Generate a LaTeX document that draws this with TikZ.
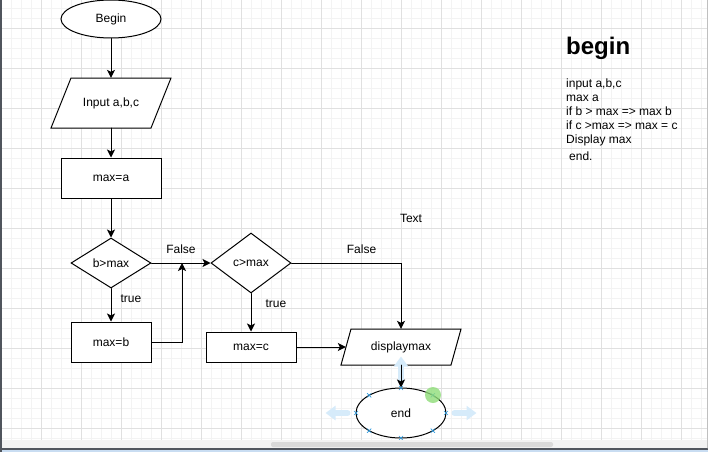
\documentclass[tikz,border=0pt]{standalone}
\usepackage{fontspec}
\setmainfont{Liberation Sans}
\usetikzlibrary{arrows.meta,shapes.geometric}

\definecolor{gridminor}{HTML}{F3F3F3}
\definecolor{gridmajor}{HTML}{E0E0E0}
\definecolor{selblue}{HTML}{D6EBFA}
\definecolor{markblue}{HTML}{2C9AE0}
\definecolor{handlegreen}{HTML}{8FDD79}
\definecolor{barback}{HTML}{F2F2F2}
\definecolor{barthumb}{HTML}{D9D9D9}
\definecolor{edgedark}{HTML}{50555D}
\definecolor{edgeblue}{HTML}{C9DDF2}

\begin{document}
\begin{tikzpicture}[x=1pt,y=-1pt,line cap=round,
  every node/.style={font=\fontsize{12}{14}\selectfont},
  flow/.style={draw,line width=1pt,-{Stealth[length=8pt,width=8pt,inset=2pt]}},
  outline/.style={draw,line width=1pt,fill=white},
  box/.style={outline,minimum height=40pt,inner sep=0pt},
  cond/.style={outline,diamond,inner sep=0pt},
  io/.style={inner sep=0pt},
  term/.style={outline,ellipse,inner sep=0pt}]
  \useasboundingbox (0,0) rectangle (708,452);

  % grid
  \foreach \x in {1,11,...,701} \draw[gridminor,line width=.8pt] (\x,0) -- (\x,440);
  \foreach \y in {8,18,...,438} \draw[gridminor,line width=.8pt] (0,\y) -- (708,\y);
  \foreach \x in {1,41,...,681} \draw[gridmajor,line width=.8pt] (\x,0) -- (\x,440);
  \foreach \y in {28,68,...,428} \draw[gridmajor,line width=.8pt] (0,\y) -- (708,\y);

  % parallelograms (drawn before their nodes)
  \coordinate (inputc) at (111,103);
  \coordinate (dispc) at (401,347);
  \path[outline] (inputc) ++(-60,25) -- ++(100,0) -- ++(20,-50) -- ++(-100,0) -- cycle;
  \path[outline] (dispc) ++(-60,18) -- ++(110,0) -- ++(10,-36) -- ++(-110,0) -- cycle;

  % flowchart
  \node[term,minimum width=100pt,minimum height=38pt] (start) at (111,19) {Begin};
  \node[io,minimum width=110pt,minimum height=50pt] (input) at (inputc) {Input a,b,c};
  \node[box,minimum width=100pt] (maxa) at (111,178) {max=a};
  \node[cond,minimum width=80pt,minimum height=50pt] (bmax) at (111,263) {b>max};
  \node[box,minimum width=80pt] (maxb) at (111,342) {max=b};
  \node[cond,minimum width=80pt,minimum height=60pt] (cmax) at (251,263) {c>max};
  \node[box,minimum width=90pt,minimum height=30pt] (maxc) at (251,347) {max=c};
  \node[io,minimum width=110pt,minimum height=36pt] (disp) at (dispc) {displaymax};
  \node[term,minimum width=90pt,minimum height=50pt] (stop) at (401,413) {end};
  \coordinate (join) at (182,263);
  \node (note) at (411,218) {Text};

  % selection handles
  \draw[selblue,line width=6pt,-{Triangle[length=10pt,width=14pt]}] (stop.west) ++(-8,0) -- ++(-22,0);
  \draw[selblue,line width=6pt,-{Triangle[length=10pt,width=14pt]}] (stop.east) ++(8,0) -- ++(22,0);
  \draw[selblue,line width=6pt,-{Triangle[length=10pt,width=14pt]}] (stop.north) ++(0,-6) -- ++(0,-25);

  \draw[flow] (start) -- (input);
  \draw[flow] (input) -- (maxa);
  \draw[flow] (maxa) -- (bmax);
  \draw[flow] (bmax) -- node[pos=.32,right=9pt,inner sep=0pt] {true} (maxb);
  \draw[flow] (maxb.east) -| (join);
  \draw[flow] (bmax) -- node[above=9pt,inner sep=0pt] {False} (cmax);
  \draw[flow] (cmax) -- node[pos=.26,right=14pt,inner sep=0pt] {true} (maxc);
  \draw[flow] (maxc) -- (disp);
  \draw[flow] (cmax) -| node[pos=.32,above=9pt,inner sep=0pt] {False} (disp);
  \draw[flow] (disp) -- (stop);

  \foreach \a in {0,45,...,315}
    \draw[markblue,line width=.6pt] (stop.center) ++({45*cos(\a)},{25*sin(\a)})
      +(-2,-2) -- +(2,2) +(-2,2) -- +(2,-2);
  \fill[handlegreen,opacity=.8] (stop.center) ++(32,-18) circle[radius=8];

  % notes
  \node[anchor=base west,inner sep=0pt,font=\fontsize{24}{28}\selectfont\bfseries] (title) at (566,55) {begin};
  \node[anchor=north west,inner sep=0pt,align=left] (steps) at (566,79)
    {input a,b,c\\max a\\if b > max => max b\\if c >max => max = c\\Display max\\[3pt]\hspace{3pt}end.};

  % window frame
  \fill[barback] (0,440) rectangle (708,448);
  \fill[barthumb,rounded corners=2pt] (271,442) rectangle (553,447);
  \fill[edgedark] (0,448) rectangle (708,450);
  \fill[edgeblue] (0,450) rectangle (708,452);
  \fill[edgedark] (0,0) rectangle (1.5,452);
  \draw[gray!50,line width=.8pt] (707,0) -- (707,448);
\end{tikzpicture}
\end{document}
